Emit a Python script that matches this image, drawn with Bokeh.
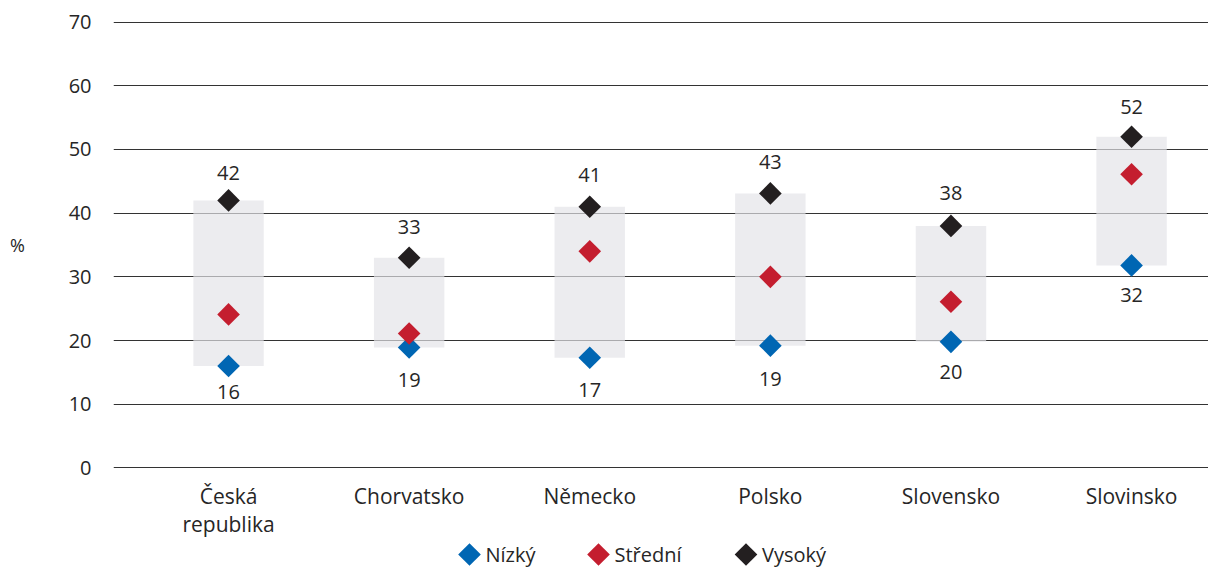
import math
from bokeh.plotting import figure
from bokeh.layouts import column, row
from bokeh.models import ColumnDataSource, Range1d, FixedTicker
from bokeh.core.properties import value
from bokeh.embed import file_html
from bokeh.resources import INLINE

categories = ["Česká\nrepublika", "Chorvatsko", "Německo", "Polsko", "Slovensko", "Slovinsko"]
nizky = [16.0, 18.9, 17.3, 19.2, 19.8, 31.8]
stredni = [24.1, 21.1, 34.0, 30.0, 26.1, 46.1]
vysoky = [42.0, 33.0, 41.0, 43.1, 38.0, 52.0]
y_ticks = [0, 10, 20, 30, 40, 50, 60, 70]
series_names = ["Nízký", "Střední", "Vysoký"]
y_unit_label = "%"

# label placement (pixels from marker), as in the original layout
high_label_gap = [27, 31, 32, 31, 33, 30]
low_label_gap = [26, 32, 32, 33, 30, 30]

FONT = "Open Sans"
TXT = "#262626"
BLUE = "#0066b3"
RED = "#c41e2f"
BLACK = "#231f20"
series_colors = [BLUE, RED, BLACK]

TOP, BOTTOM = 19, 70
PH = 540
y_lo, y_hi = -0.4, 70.4

xs = list(range(len(categories)))
src = ColumnDataSource(dict(
    x=xs, low=nizky, mid=stredni, high=vysoky,
    low_lbl=[str(round(v)) for v in nizky],
    high_lbl=[str(round(v)) for v in vysoky],
    high_off=[-g for g in high_label_gap],
    low_off=low_label_gap,
))

p = figure(width=1173, height=PH, output_backend="svg", toolbar_location=None,
           x_range=Range1d(-0.637, 5.426), y_range=Range1d(y_lo, y_hi),
           min_border_left=78, min_border_top=TOP, min_border_right=0,
           min_border_bottom=BOTTOM)
p.outline_line_color = None

p.vbar(x="x", bottom="low", top="high", width=0.39, source=src,
       fill_color="#e3e3e7", fill_alpha=0.68, line_color=None)

sq = 16
for col, c in zip(["low", "mid", "high"], series_colors):
    p.scatter(x="x", y=col, source=src, marker="square", size=sq, angle=math.pi / 4,
              fill_color=c, line_color=None)

p.text(x="x", y="high", text="high_lbl", source=src, y_offset="high_off",
       text_align="center", text_baseline="middle", text_font=value(FONT),
       text_font_size="20px", text_color=TXT)
p.text(x="x", y="low", text="low_lbl", source=src, y_offset="low_off",
       text_align="center", text_baseline="middle", text_font=value(FONT),
       text_font_size="20px", text_color=TXT)

p.xaxis.ticker = FixedTicker(ticks=xs)
p.xaxis.major_label_overrides = {i: c for i, c in enumerate(categories)}
p.xaxis.axis_line_color = None
p.xaxis.major_tick_line_color = None
p.xaxis.minor_tick_line_color = None
p.xaxis.major_label_standoff = 5
p.xaxis.major_label_text_font = FONT
p.xaxis.major_label_text_font_size = "21px"
p.xaxis.major_label_text_line_height = 1.0
p.xaxis.major_label_text_color = TXT
p.xgrid.grid_line_color = None

p.yaxis.ticker = FixedTicker(ticks=y_ticks)
p.yaxis.axis_line_color = None
p.yaxis.major_tick_line_color = None
p.yaxis.minor_tick_line_color = None
p.yaxis.major_label_standoff = 16
p.yaxis.major_label_text_font = FONT
p.yaxis.major_label_text_font_size = "20px"
p.yaxis.major_label_text_color = TXT
p.ygrid.ticker = FixedTicker(ticks=y_ticks)
p.ygrid.grid_line_color = "#333333"
p.ygrid.grid_line_width = 1.2

# "%" strip at left
pct = figure(width=35, height=PH, output_backend="svg", toolbar_location=None,
             x_range=Range1d(0, 35), y_range=Range1d(y_lo, y_hi),
             min_border_left=0, min_border_right=0, min_border_top=TOP,
             min_border_bottom=BOTTOM, x_axis_type=None, y_axis_type=None)
pct.outline_line_color = None
pct.xgrid.grid_line_color = None
pct.ygrid.grid_line_color = None
pct.text(x=[17], y=[35], text=[y_unit_label], text_align="center", text_baseline="middle",
         text_font=value(FONT), text_font_size="18px", text_color=TXT)

# legend strip
leg = figure(width=1208, height=27, output_backend="svg", toolbar_location=None,
             x_range=Range1d(0, 1208), y_range=Range1d(0, 27),
             min_border=0, x_axis_type=None, y_axis_type=None)
leg.outline_line_color = None
leg.xgrid.grid_line_color = None
leg.ygrid.grid_line_color = None
leg_x = [469, 598, 745.5]
leg_src = ColumnDataSource(dict(x=leg_x, tx=[v + 16 for v in leg_x], y=[13] * 3,
                                name=series_names, color=series_colors))
leg.scatter(x="x", y="y", source=leg_src, marker="square", size=sq, angle=math.pi / 4,
            fill_color="color", line_color=None)
leg.text(x="tx", y="y", text="name", source=leg_src, text_align="left",
         text_baseline="middle", text_font=value(FONT), text_font_size="20px",
         text_color=TXT)

layout = column(row(pct, p, spacing=0), leg, spacing=0)
open("out.html", "w").write(file_html(layout, INLINE))
